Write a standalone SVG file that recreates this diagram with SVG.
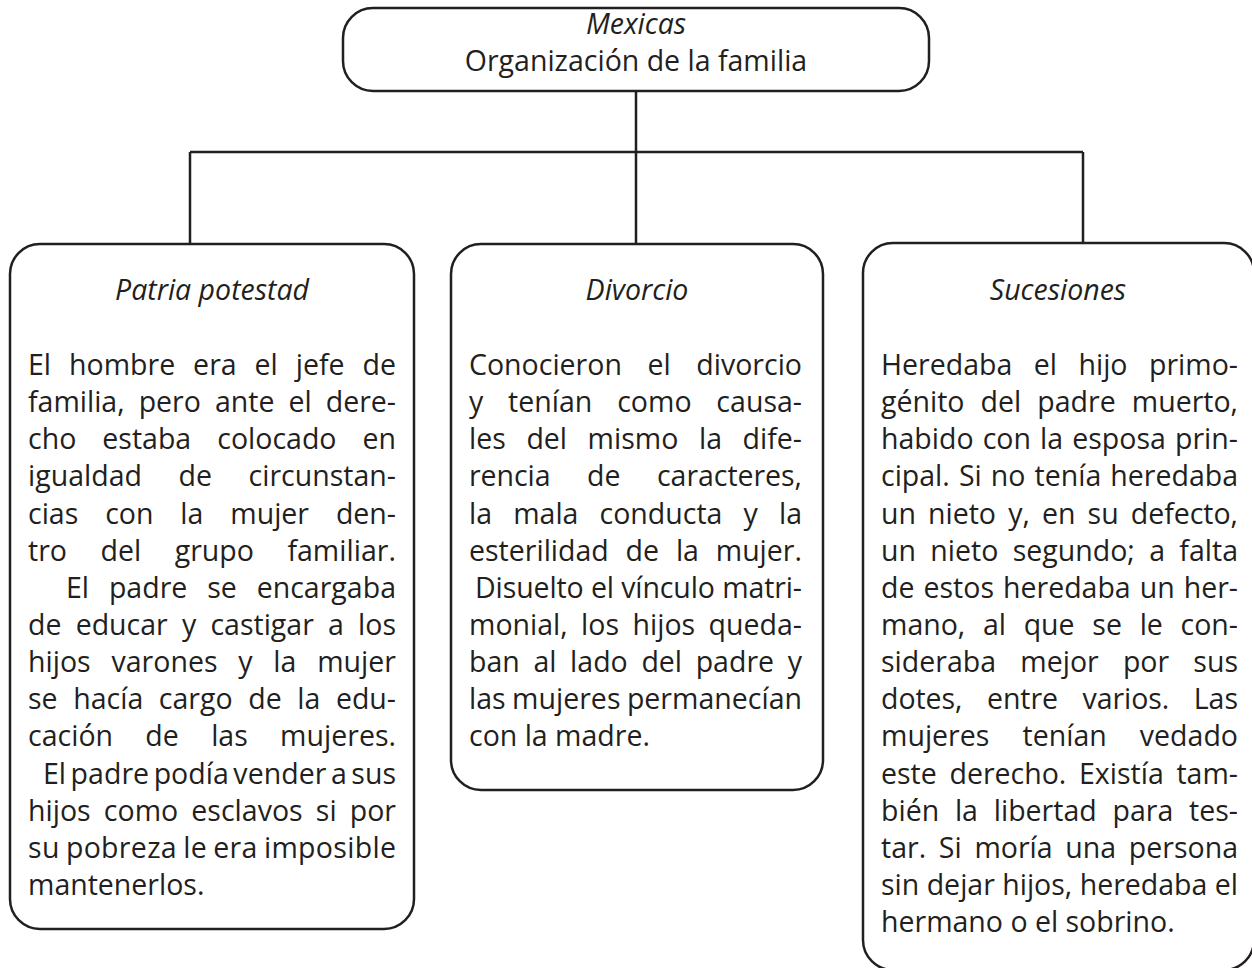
<svg xmlns="http://www.w3.org/2000/svg" width="1252" height="968" viewBox="0 0 1252 968">
<style>
.box{fill:#fff;stroke:#231f20;stroke-width:2.5}
.conn{fill:none;stroke:#231f20;stroke-width:2.5}
text{font-family:"Open Sans","Noto Sans",sans-serif;font-size:28.5px;fill:#231f20}
.ti{font-style:italic;text-anchor:middle}
.c{text-anchor:middle}
</style>
<rect width="1252" height="968" fill="#fff"/>
<g id="connectors">
<path class="conn" d="M636,91 V244 M190,152 H1083 M190,152 V244 M1083,152 V244"/>
</g>
<g id="node-top">
<rect class="box" x="343" y="8" width="586" height="83" rx="30"/>
<text class="ti" x="636" y="34">Mexicas</text>
<text class="c" x="636" y="71">Organización de la familia</text>
</g>
<g id="node-patria">
<rect class="box" x="10" y="244" width="404" height="685" rx="30"/>
<text class="ti" x="212" y="300">Patria potestad</text>
<text x="28" y="375" textLength="368" lengthAdjust="spacing" word-spacing="10.5">El hombre era el jefe de</text>
<text x="28" y="412.1" textLength="368" lengthAdjust="spacing" word-spacing="6.7">familia, pero ante el dere-</text>
<text x="28" y="449.3" textLength="368" lengthAdjust="spacing" word-spacing="18.6">cho estaba colocado en</text>
<text x="28" y="486.4" textLength="368" lengthAdjust="spacing" word-spacing="29.2">igualdad de circunstan-</text>
<text x="28" y="523.6" textLength="368" lengthAdjust="spacing" word-spacing="19.5">cias con la mujer den-</text>
<text x="28" y="560.7" textLength="368" lengthAdjust="spacing" word-spacing="26">tro del grupo familiar.</text>
<text x="66" y="597.8" textLength="330" lengthAdjust="spacing" word-spacing="12.4">El padre se encargaba</text>
<text x="28" y="635" textLength="368" lengthAdjust="spacing" word-spacing="6.8">de educar y castigar a los</text>
<text x="28" y="672.1" textLength="368" lengthAdjust="spacing" word-spacing="13.3">hijos varones y la mujer</text>
<text x="28" y="709.3" textLength="368" lengthAdjust="spacing" word-spacing="8.2">se hacía cargo de la edu-</text>
<text x="28" y="746.4" textLength="368" lengthAdjust="spacing" word-spacing="24.9">cación de las mujeres.</text>
<text x="43" y="783.5" textLength="353" lengthAdjust="spacing" word-spacing="-2.9">El padre podía vender a sus</text>
<text x="28" y="820.7" textLength="368" lengthAdjust="spacing" word-spacing="5.7">hijos como esclavos si por</text>
<text x="28" y="857.8" textLength="368" lengthAdjust="spacing" word-spacing="-1.5">su pobreza le era imposible</text>
<text x="28" y="895">mantenerlos.</text>
</g>
<g id="node-divorcio">
<rect class="box" x="451" y="244" width="372" height="546" rx="30"/>
<text class="ti" x="637" y="300">Divorcio</text>
<text x="469" y="375" textLength="333" lengthAdjust="spacing" word-spacing="18.2">Conocieron el divorcio</text>
<text x="469" y="412.1" textLength="333" lengthAdjust="spacing" word-spacing="17.4">y tenían como causa-</text>
<text x="469" y="449.3" textLength="333" lengthAdjust="spacing" word-spacing="13.1">les del mismo la dife-</text>
<text x="469" y="486.4" textLength="333" lengthAdjust="spacing" word-spacing="29.2">rencia de caracteres,</text>
<text x="469" y="523.6" textLength="333" lengthAdjust="spacing" word-spacing="13.7">la mala conducta y la</text>
<text x="469" y="560.7" textLength="333" lengthAdjust="spacing" word-spacing="9.4">esterilidad de la mujer.</text>
<text x="475" y="597.8" textLength="327" lengthAdjust="spacing">Disuelto el vínculo matri-</text>
<text x="469" y="635" textLength="333" lengthAdjust="spacing" word-spacing="6">monial, los hijos queda-</text>
<text x="469" y="672.1" textLength="333" lengthAdjust="spacing" word-spacing="6.2">ban al lado del padre y</text>
<text x="469" y="709.3" textLength="333" lengthAdjust="spacing" word-spacing="-1">las mujeres permanecían</text>
<text x="469" y="746.4">con la madre.</text>
</g>
<g id="node-sucesiones">
<rect class="box" x="863" y="243" width="391" height="727" rx="30"/>
<text class="ti" x="1058" y="300">Sucesiones</text>
<text x="881" y="375" textLength="357" lengthAdjust="spacing" word-spacing="14">Heredaba el hijo primo-</text>
<text x="881" y="412.1" textLength="357" lengthAdjust="spacing" word-spacing="8.7">génito del padre muerto,</text>
<text x="881" y="449.3" textLength="357" lengthAdjust="spacing" word-spacing="1.6">habido con la esposa prin-</text>
<text x="881" y="486.4" textLength="357" lengthAdjust="spacing" word-spacing="1.7">cipal. Si no tenía heredaba</text>
<text x="881" y="523.6" textLength="357" lengthAdjust="spacing" word-spacing="4.8">un nieto y, en su defecto,</text>
<text x="881" y="560.7" textLength="357" lengthAdjust="spacing" word-spacing="6.9">un nieto segundo; a falta</text>
<text x="881" y="597.8" textLength="357" lengthAdjust="spacing" word-spacing="1.6">de estos heredaba un her-</text>
<text x="881" y="635" textLength="357" lengthAdjust="spacing" word-spacing="10.3">mano, al que se le con-</text>
<text x="881" y="672.1" textLength="357" lengthAdjust="spacing" word-spacing="16.7">sideraba mejor por sus</text>
<text x="881" y="709.3" textLength="357" lengthAdjust="spacing" word-spacing="17.1">dotes, entre varios. Las</text>
<text x="881" y="746.4" textLength="357" lengthAdjust="spacing" word-spacing="25.7">mujeres tenían vedado</text>
<text x="881" y="783.5" textLength="357" lengthAdjust="spacing" word-spacing="5.3">este derecho. Existía tam-</text>
<text x="881" y="820.7" textLength="357" lengthAdjust="spacing" word-spacing="8.4">bién la libertad para tes-</text>
<text x="881" y="857.8" textLength="357" lengthAdjust="spacing" word-spacing="5.3">tar. Si moría una persona</text>
<text x="881" y="895" textLength="357" lengthAdjust="spacing">sin dejar hijos, heredaba el</text>
<text x="881" y="932.1">hermano o el sobrino.</text>
</g>
</svg>
